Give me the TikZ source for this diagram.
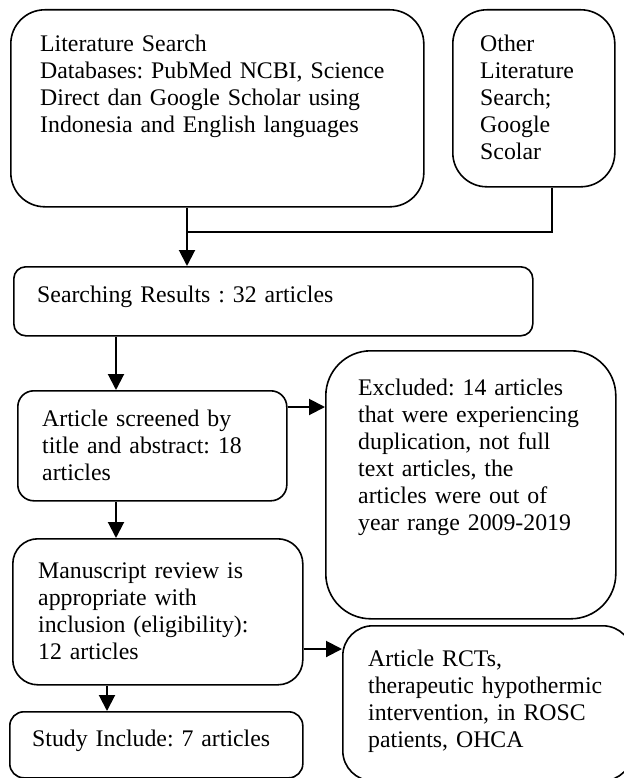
\documentclass[tikz,border=0pt]{standalone}
\usepackage{fontspec}
\setmainfont{Liberation Serif}
\usetikzlibrary{arrows.meta}
\frenchspacing
\begin{document}
\begin{tikzpicture}[x=1pt,y=-1pt,
 box/.style={draw, line width=1.6pt, inner sep=0pt, anchor=north west},
 txt/.style={anchor=base west, inner sep=0pt, align=left, font=\frenchspacing\fontsize{23.8}{27}\selectfont},
 arr/.style={line width=2pt, -{Triangle[length=16pt,width=16pt]}},
 ln/.style={line width=2pt}]
\useasboundingbox (0,0) rectangle (623,778);
% boxes
\node[box, rounded corners=34pt, minimum width=413pt, minimum height=197pt] (A) at (10,9) {};
\node[txt, text width=380pt] (At) at (40,52) {Literature Search\\Databases: PubMed NCBI, Science\\Direct dan Google Scholar using\\Indonesia and English languages};
\node[box, rounded corners=34pt, minimum width=162pt, minimum height=177pt] (B) at (452,9) {};
\node[txt, text width=130pt] (Bt) at (480,52) {Other\\Literature\\Search;\\Google\\Scolar};
\node[box, rounded corners=12pt, minimum width=519pt, minimum height=69pt] (S) at (13,266) {};
\node[txt, text width=480pt] (St) at (37,302) {Searching Results : 32 articles};
\node[box, rounded corners=16pt, minimum width=269pt, minimum height=110pt] (Sc) at (17,390) {};
\node[txt, text width=240pt] (Sct) at (42,426) {Article screened by\\title and abstract: 18\\articles};
\node[box, rounded corners=45pt, minimum width=290pt, minimum height=268pt] (E) at (325,350) {};
\node[txt, text width=255pt] (Et) at (358,395) {Excluded: 14 articles\\that were experiencing\\duplication, not full\\text articles, the\\articles were out of\\year range 2009-2019};
\node[box, rounded corners=25pt, minimum width=290pt, minimum height=146pt] (M) at (12,538) {};
\node[txt, text width=262pt] (Mt) at (38,578) {Manuscript review is\\appropriate with\\inclusion (eligibility):\\12 articles};
\node[box, rounded corners=30pt, minimum width=290pt, minimum height=155pt] (R) at (342,625) {};
\node[txt, text width=250pt] (Rt) at (368,666) {Article RCTs,\\therapeutic hypothermic\\intervention, in ROSC\\patients, OHCA};
\node[box, rounded corners=14pt, minimum width=293pt, minimum height=66pt] (Sd) at (9,711) {};
\node[txt, text width=265pt] (Sdt) at (32,746) {Study Include: 7 articles};
% connectors
\coordinate (j) at (187,232);
\coordinate (bj) at (552,232);
\draw[ln] (bj |- B.south) -- (bj) -- (j);
\draw[arr] (j |- A.south) -- (j |- S.north);
\coordinate (c1) at (116,0);
\draw[arr] (c1 |- S.south) -- (c1 |- Sc.north);
\coordinate (r1) at (0,407);
\draw[arr] (r1 -| Sc.east) -- (r1 -| E.west);
\draw[arr] (c1 |- Sc.south) -- (c1 |- M.north);
\coordinate (r2) at (0,649);
\draw[arr] (r2 -| M.east) -- (r2 -| R.west);
\coordinate (c2) at (107,0);
\draw[arr] (c2 |- M.south) -- (c2 |- Sd.north);
\end{tikzpicture}
\end{document}
